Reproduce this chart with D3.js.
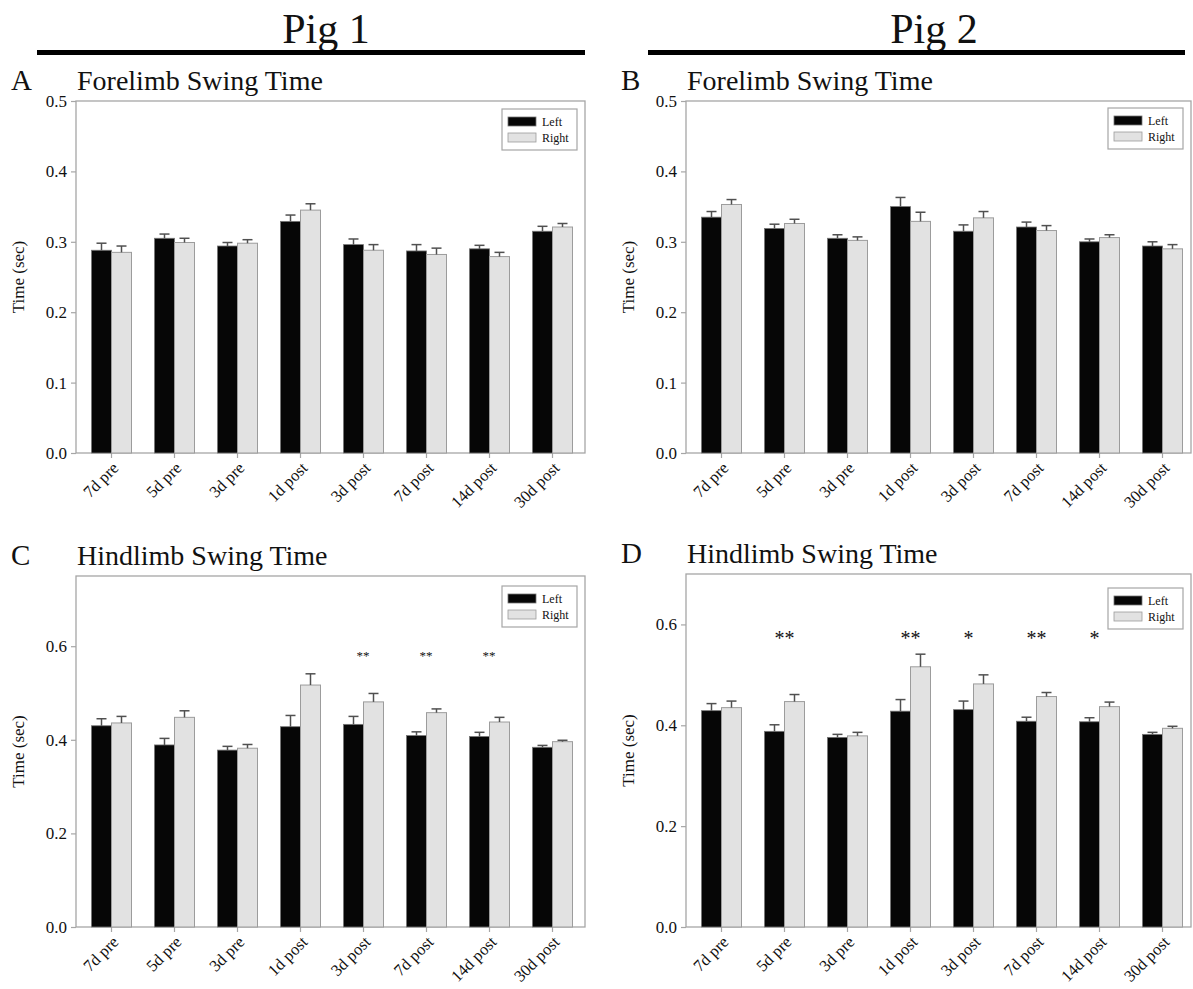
<!DOCTYPE html>
<html>
<head>
<meta charset="utf-8">
<script src="https://cdn.jsdelivr.net/npm/d3@7"></script>
<style>
  html, body { margin: 0; padding: 0; background: #fff; }
  svg { display: block; }
  text { font-family: "Liberation Serif", "Times New Roman", serif; fill: #111; }
</style>
</head>
<body>
<svg id="fig" width="1193" height="989"></svg>
<script>
// Swing time (sec) per limb at each time point relative to the procedure
const timepoints = ["7d pre", "5d pre", "3d pre", "1d post", "3d post", "7d post", "14d post", "30d post"];

// Pig 1 forelimb
const pig1ForeLeft     = [0.288, 0.305, 0.294, 0.329, 0.296, 0.287, 0.290, 0.315];
const pig1ForeLeftErr  = [0.010, 0.006, 0.005, 0.009, 0.008, 0.009, 0.005, 0.007];
const pig1ForeRight    = [0.285, 0.299, 0.298, 0.345, 0.288, 0.282, 0.279, 0.321];
const pig1ForeRightErr = [0.009, 0.006, 0.005, 0.009, 0.008, 0.009, 0.006, 0.005];

// Pig 2 forelimb
const pig2ForeLeft     = [0.335, 0.319, 0.305, 0.350, 0.315, 0.321, 0.300, 0.294];
const pig2ForeLeftErr  = [0.008, 0.006, 0.005, 0.013, 0.009, 0.007, 0.004, 0.006];
const pig2ForeRight    = [0.353, 0.326, 0.302, 0.329, 0.334, 0.316, 0.306, 0.290];
const pig2ForeRightErr = [0.007, 0.006, 0.005, 0.013, 0.009, 0.007, 0.004, 0.006];

// Pig 1 hindlimb
const pig1HindLeft     = [0.430, 0.389, 0.378, 0.428, 0.433, 0.409, 0.407, 0.384];
const pig1HindLeftErr  = [0.015, 0.014, 0.008, 0.024, 0.017, 0.008, 0.009, 0.004];
const pig1HindRight    = [0.436, 0.448, 0.382, 0.517, 0.481, 0.458, 0.438, 0.396];
const pig1HindRightErr = [0.014, 0.014, 0.008, 0.024, 0.018, 0.008, 0.010, 0.003];
const pig1HindSig      = ["", "", "", "", "**", "**", "**", ""];

// Pig 2 hindlimb
const pig2HindLeft     = [0.429, 0.388, 0.376, 0.428, 0.431, 0.408, 0.407, 0.382];
const pig2HindLeftErr  = [0.014, 0.013, 0.006, 0.023, 0.017, 0.008, 0.008, 0.004];
const pig2HindRight    = [0.435, 0.447, 0.379, 0.516, 0.482, 0.457, 0.437, 0.394];
const pig2HindRightErr = [0.013, 0.014, 0.007, 0.025, 0.018, 0.008, 0.009, 0.004];
const pig2HindSig      = ["", "**", "", "**", "*", "**", "*", ""];

const foreTicks = [0.0, 0.1, 0.2, 0.3, 0.4, 0.5];
const hindTicks = [0.0, 0.2, 0.4, 0.6];
const seriesNames = ["Left", "Right"];
const pigTitles = ["Pig 1", "Pig 2"];

const svg = d3.select("#fig");
svg.append("rect").attr("width", 1193).attr("height", 989).attr("fill", "#fff");

const FRAME = "#a6a6a6";
const BLACK_FILL = "#060606";
const GREY_FILL = "#e2e2e2";
const GREY_EDGE = "#9c9c9c";
const ERR = "#505050";

// Headers over each column
const headers = [
  { title: pigTitles[0], cx: 326, x0: 37, x1: 585 },
  { title: pigTitles[1], cx: 934, x0: 648, x1: 1185 }
];
headers.forEach(h => {
  svg.append("text").attr("x", h.cx).attr("y", 43)
    .attr("text-anchor", "middle").attr("font-size", 42).text(h.title);
  svg.append("rect").attr("x", h.x0).attr("y", 50).attr("width", h.x1 - h.x0).attr("height", 5)
    .attr("fill", "#000");
});

function drawPanel(p) {
  const g = svg.append("g");
  const x = d3.scaleBand().domain(timepoints).range([p.x0 + 4, p.x0 + 508]);
  const y = d3.scaleLinear().domain([0, p.yMax]).range([p.y1, p.y0]);
  const barW = 20;

  // frame
  g.append("rect").attr("x", p.x0).attr("y", p.y0)
    .attr("width", p.x1 - p.x0).attr("height", p.y1 - p.y0)
    .attr("fill", "none").attr("stroke", FRAME).attr("stroke-width", 1.3);

  // y axis
  const yAxis = d3.axisLeft(y).tickValues(p.ticks).tickFormat(d3.format(".1f")).tickSize(5).tickPadding(4);
  const ya = g.append("g").attr("transform", `translate(${p.x0},0)`).call(yAxis);
  ya.select(".domain").remove();
  ya.selectAll(".tick line").attr("stroke", FRAME).attr("stroke-width", 1.2);
  ya.selectAll(".tick text").attr("font-size", 17).attr("font-family", "Liberation Serif, serif").attr("fill", "#111");

  // x axis with slanted category labels
  const xAxis = d3.axisBottom(x).tickSize(5).tickPadding(0);
  const xa = g.append("g").attr("transform", `translate(0,${p.y1})`).call(xAxis);
  xa.select(".domain").remove();
  xa.selectAll(".tick line").attr("stroke", FRAME).attr("stroke-width", 1.2);
  xa.selectAll(".tick text")
    .attr("font-size", 16.5).attr("font-family", "Liberation Serif, serif").attr("fill", "#111")
    .attr("text-anchor", "end").attr("dy", null).attr("y", null)
    .attr("transform", "translate(8,16) rotate(-45)");

  // y title
  g.append("text")
    .attr("transform", `translate(${p.x0 - 52},${(p.y0 + p.y1) / 2}) rotate(-90)`)
    .attr("text-anchor", "middle").attr("font-size", 17).text("Time (sec)");

  // letter + title
  g.append("text").attr("x", p.x0 - 65).attr("y", p.y0 - 11).attr("font-size", 29).text(p.letter);
  g.append("text").attr("x", p.x0 + 1).attr("y", p.y0 - 11).attr("font-size", 28).text(p.title);

  const rows = timepoints.map((t, i) => ({
    t, l: p.left[i], le: p.leftErr[i], r: p.right[i], re: p.rightErr[i], sig: p.sig ? p.sig[i] : ""
  }));
  const cx = d => x(d.t) + x.bandwidth() / 2;

  // upper error whisker with cap
  function whisker(sel, xc, v, e) {
    sel.append("line").attr("x1", xc).attr("x2", xc).attr("y1", y(v)).attr("y2", y(v + e))
      .attr("stroke", ERR).attr("stroke-width", 1.5);
    sel.append("line").attr("x1", xc - 5).attr("x2", xc + 5).attr("y1", y(v + e)).attr("y2", y(v + e))
      .attr("stroke", ERR).attr("stroke-width", 1.5);
  }

  const grp = g.selectAll(".grp").data(rows).join("g").attr("class", "grp");
  grp.append("rect")
    .attr("x", d => cx(d) - barW).attr("width", barW)
    .attr("y", d => y(d.l)).attr("height", d => y(0) - y(d.l))
    .attr("fill", BLACK_FILL).attr("stroke", "#777").attr("stroke-width", 0.8);
  grp.append("rect")
    .attr("x", d => cx(d)).attr("width", barW)
    .attr("y", d => y(d.r)).attr("height", d => y(0) - y(d.r))
    .attr("fill", GREY_FILL).attr("stroke", GREY_EDGE).attr("stroke-width", 1);
  grp.each(function (d) {
    const s = d3.select(this);
    whisker(s, cx(d) - barW / 2, d.l, d.le);
    whisker(s, cx(d) + barW / 2, d.r, d.re);
  });

  // significance marks
  if (p.sig) {
    g.selectAll(".sig").data(rows.filter(d => d.sig)).join("text")
      .attr("class", "sig")
      .attr("x", d => cx(d) - p.sigHalf)
      .attr("y", y(p.sigAt) + p.sigDrop)
      .attr("font-size", p.sigSize).attr("fill", "#333")
      .text(d => d.sig);
  }

  // legend
  const lx = p.x1 - 8 - 75, ly = p.y0 + p.legDrop;
  const lg = g.append("g").attr("transform", `translate(${lx},${ly})`);
  lg.append("rect").attr("width", 75).attr("height", 41)
    .attr("fill", "#fff").attr("stroke", FRAME).attr("stroke-width", 1.2);
  seriesNames.forEach((name, i) => {
    lg.append("rect").attr("x", 6).attr("y", 8 + i * 16).attr("width", 28).attr("height", 9)
      .attr("fill", i === 0 ? BLACK_FILL : GREY_FILL)
      .attr("stroke", i === 0 ? "#777" : GREY_EDGE).attr("stroke-width", 0.8);
    lg.append("text").attr("x", 40).attr("y", 17 + i * 16).attr("font-size", 12).text(name);
  });
}

drawPanel({
  letter: "A", title: "Forelimb Swing Time",
  x0: 76, x1: 585, y0: 101, y1: 453, yMax: 0.5, ticks: foreTicks,
  left: pig1ForeLeft, leftErr: pig1ForeLeftErr, right: pig1ForeRight, rightErr: pig1ForeRightErr,
  legDrop: 8
});
drawPanel({
  letter: "B", title: "Forelimb Swing Time",
  x0: 686, x1: 1191, y0: 101, y1: 453, yMax: 0.5, ticks: foreTicks,
  left: pig2ForeLeft, leftErr: pig2ForeLeftErr, right: pig2ForeRight, rightErr: pig2ForeRightErr,
  legDrop: 7
});
drawPanel({
  letter: "C", title: "Hindlimb Swing Time",
  x0: 76, x1: 585, y0: 576, y1: 927, yMax: 0.75, ticks: hindTicks,
  left: pig1HindLeft, leftErr: pig1HindLeftErr, right: pig1HindRight, rightErr: pig1HindRightErr,
  sig: pig1HindSig, sigAt: 0.587, sigSize: 13, sigDrop: 8, sigHalf: 7,
  legDrop: 10
});
drawPanel({
  letter: "D", title: "Hindlimb Swing Time",
  x0: 686, x1: 1191, y0: 574, y1: 927, yMax: 0.7, ticks: hindTicks,
  left: pig2HindLeft, leftErr: pig2HindLeftErr, right: pig2HindRight, rightErr: pig2HindRightErr,
  sig: pig2HindSig, sigAt: 0.582, sigSize: 20, sigDrop: 11, sigHalf: 10,
  legDrop: 14
});
</script>
</body>
</html>
